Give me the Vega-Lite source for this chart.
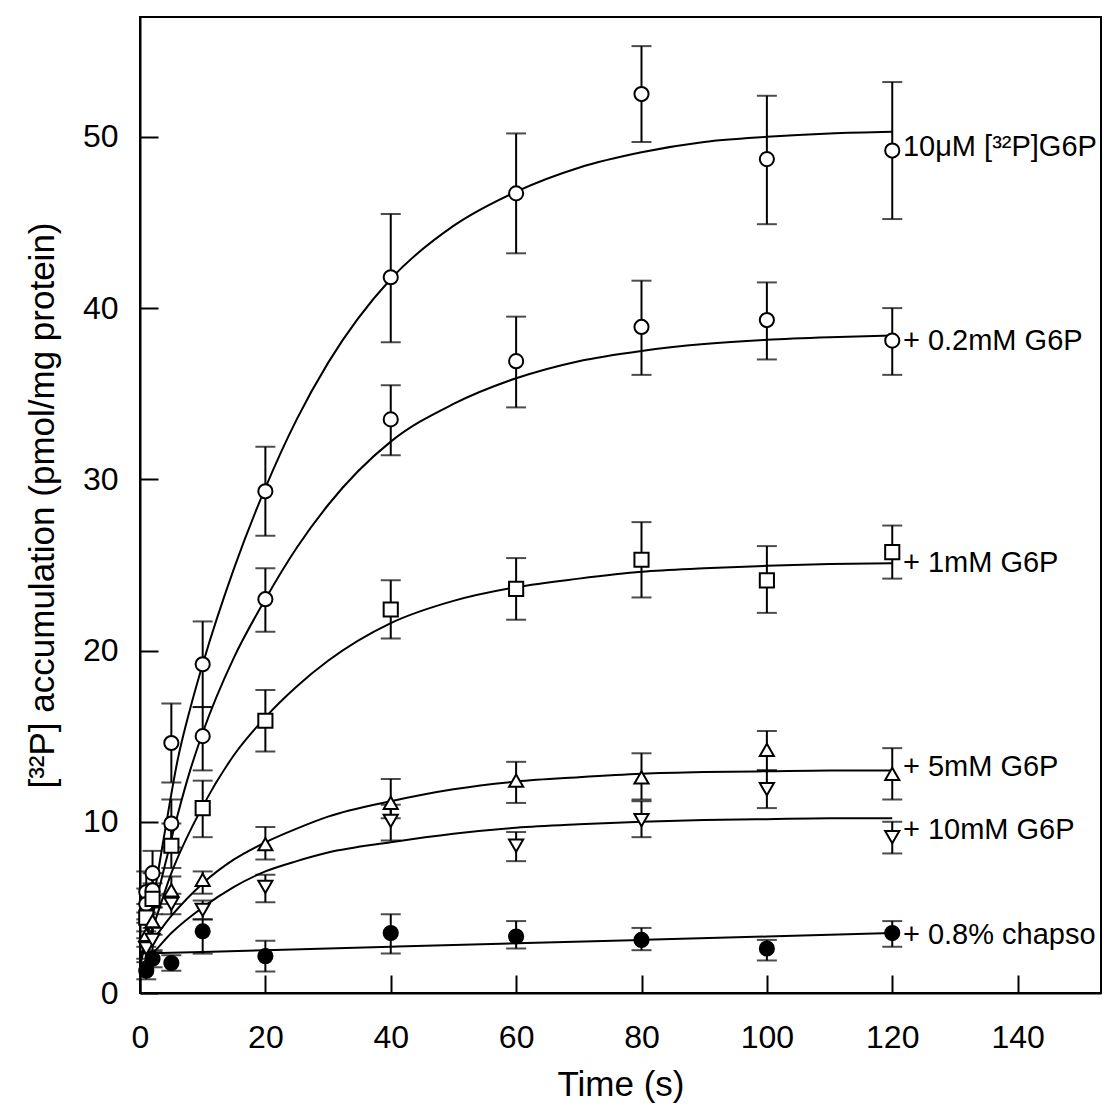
{
  "$schema": "https://vega.github.io/schema/vega-lite/v6.json",
  "autosize": {"type": "none"},
  "width": 961,
  "height": 976,
  "padding": {"left": 140, "top": 17, "right": 5, "bottom": 121},
  "background": "white",
  "config": {
    "view": {"stroke": "black", "strokeWidth": 2},
    "font": "Liberation Sans",
    "axis": {
      "domainColor": "black", "domainWidth": 2, "tickColor": "black", "tickWidth": 2,
      "tickSize": -18, "grid": false, "labelColor": "black", "titleColor": "black",
      "labelFont": "Liberation Sans", "titleFont": "Liberation Sans",
      "labelFontSize": 32, "titleFontSize": 35, "titleFontWeight": "normal", "labelFlush": false
    }
  },
  "datasets": {
    "pts": [
      {"series": "A", "t": 1, "y": 5.9, "lo": 4.7, "hi": 7.1},
      {"series": "A", "t": 2, "y": 7.0, "lo": 5.7, "hi": 8.3},
      {"series": "A", "t": 5, "y": 14.6, "lo": 12.3, "hi": 16.9},
      {"series": "A", "t": 10, "y": 19.2, "lo": 16.7, "hi": 21.7},
      {"series": "A", "t": 20, "y": 29.3, "lo": 26.7, "hi": 31.9},
      {"series": "A", "t": 40, "y": 41.8, "lo": 38.0, "hi": 45.5},
      {"series": "A", "t": 60, "y": 46.7, "lo": 43.2, "hi": 50.2},
      {"series": "A", "t": 80, "y": 52.5, "lo": 49.7, "hi": 55.3},
      {"series": "A", "t": 100, "y": 48.7, "lo": 44.9, "hi": 52.4},
      {"series": "A", "t": 120, "y": 49.2, "lo": 45.2, "hi": 53.2},
      {"series": "B", "t": 1, "y": 5.2, "lo": 4.3, "hi": 6.1},
      {"series": "B", "t": 2, "y": 6.0, "lo": 5.0, "hi": 7.0},
      {"series": "B", "t": 5, "y": 9.9, "lo": 8.5, "hi": 11.3},
      {"series": "B", "t": 10, "y": 15.0, "lo": 13.0, "hi": 16.7},
      {"series": "B", "t": 20, "y": 23.0, "lo": 21.1, "hi": 24.8},
      {"series": "B", "t": 40, "y": 33.5, "lo": 31.4, "hi": 35.5},
      {"series": "B", "t": 60, "y": 36.9, "lo": 34.2, "hi": 39.5},
      {"series": "B", "t": 80, "y": 38.9, "lo": 36.1, "hi": 41.6},
      {"series": "B", "t": 100, "y": 39.3, "lo": 37.0, "hi": 41.5},
      {"series": "B", "t": 120, "y": 38.1, "lo": 36.1, "hi": 40.0},
      {"series": "C", "t": 1, "y": 4.4, "lo": 3.6, "hi": 5.2},
      {"series": "C", "t": 2, "y": 5.5, "lo": 4.6, "hi": 6.4},
      {"series": "C", "t": 5, "y": 8.6, "lo": 7.3, "hi": 9.9},
      {"series": "C", "t": 10, "y": 10.8, "lo": 9.1, "hi": 12.4},
      {"series": "C", "t": 20, "y": 15.9, "lo": 14.1, "hi": 17.7},
      {"series": "C", "t": 40, "y": 22.4, "lo": 20.7, "hi": 24.1},
      {"series": "C", "t": 60, "y": 23.6, "lo": 21.8, "hi": 25.4},
      {"series": "C", "t": 80, "y": 25.3, "lo": 23.1, "hi": 27.5},
      {"series": "C", "t": 100, "y": 24.1, "lo": 22.2, "hi": 26.1},
      {"series": "C", "t": 120, "y": 25.75, "lo": 24.2, "hi": 27.3},
      {"series": "D", "t": 1, "y": 3.4, "lo": 2.7, "hi": 4.1},
      {"series": "D", "t": 2, "y": 4.2, "lo": 3.4, "hi": 5.0},
      {"series": "D", "t": 5, "y": 6.0, "lo": 5.2, "hi": 6.8},
      {"series": "D", "t": 10, "y": 6.6, "lo": 5.8, "hi": 7.1},
      {"series": "D", "t": 20, "y": 8.7, "lo": 7.8, "hi": 9.7},
      {"series": "D", "t": 40, "y": 11.1, "lo": 10.2, "hi": 12.5},
      {"series": "D", "t": 60, "y": 12.4, "lo": 11.1, "hi": 13.5},
      {"series": "D", "t": 80, "y": 12.6, "lo": 11.3, "hi": 14.0},
      {"series": "D", "t": 100, "y": 14.2, "lo": 13.0, "hi": 15.3},
      {"series": "D", "t": 120, "y": 12.8, "lo": 11.3, "hi": 14.3},
      {"series": "E", "t": 1, "y": 2.6, "lo": 2.0, "hi": 3.2},
      {"series": "E", "t": 2, "y": 3.1, "lo": 2.4, "hi": 3.8},
      {"series": "E", "t": 5, "y": 5.2, "lo": 4.6, "hi": 5.8},
      {"series": "E", "t": 10, "y": 4.85, "lo": 4.3, "hi": 5.4},
      {"series": "E", "t": 20, "y": 6.2, "lo": 5.3, "hi": 6.9},
      {"series": "E", "t": 40, "y": 10.05, "lo": 8.9, "hi": 11.0},
      {"series": "E", "t": 60, "y": 8.6, "lo": 7.7, "hi": 9.4},
      {"series": "E", "t": 80, "y": 10.1, "lo": 9.1, "hi": 11.2},
      {"series": "E", "t": 100, "y": 11.9, "lo": 10.8, "hi": 13.0},
      {"series": "E", "t": 120, "y": 9.1, "lo": 8.15, "hi": 10.0},
      {"series": "F", "t": 1, "y": 1.3, "lo": 0.8, "hi": 1.8},
      {"series": "F", "t": 2, "y": 2.0, "lo": 1.5, "hi": 2.5},
      {"series": "F", "t": 5, "y": 1.75, "lo": 1.3, "hi": 2.2},
      {"series": "F", "t": 10, "y": 3.6, "lo": 2.3, "hi": 4.3},
      {"series": "F", "t": 20, "y": 2.15, "lo": 1.25, "hi": 3.05},
      {"series": "F", "t": 40, "y": 3.5, "lo": 2.3, "hi": 4.6},
      {"series": "F", "t": 60, "y": 3.3, "lo": 2.6, "hi": 4.2},
      {"series": "F", "t": 80, "y": 3.1, "lo": 2.5, "hi": 3.8},
      {"series": "F", "t": 100, "y": 2.6, "lo": 1.9, "hi": 3.1},
      {"series": "F", "t": 120, "y": 3.5, "lo": 2.7, "hi": 4.2}
    ],
    "fit": [
      {"series": "A", "t": 0, "y": 1.5}, {"series": "A", "t": 2, "y": 5.2}, {"series": "A", "t": 4, "y": 9.5},
      {"series": "A", "t": 6, "y": 13.6}, {"series": "A", "t": 8, "y": 16.6}, {"series": "A", "t": 10, "y": 19.2},
      {"series": "A", "t": 15, "y": 24.8}, {"series": "A", "t": 20, "y": 29.5}, {"series": "A", "t": 25, "y": 33.5},
      {"series": "A", "t": 30, "y": 36.8}, {"series": "A", "t": 40, "y": 41.7}, {"series": "A", "t": 50, "y": 44.8},
      {"series": "A", "t": 60, "y": 46.8}, {"series": "A", "t": 70, "y": 48.2}, {"series": "A", "t": 80, "y": 49.1},
      {"series": "A", "t": 90, "y": 49.7}, {"series": "A", "t": 100, "y": 50.0}, {"series": "A", "t": 110, "y": 50.2},
      {"series": "A", "t": 120, "y": 50.3},
      {"series": "B", "t": 0, "y": 1.8}, {"series": "B", "t": 2, "y": 4.5}, {"series": "B", "t": 4, "y": 7.5},
      {"series": "B", "t": 6, "y": 10.4}, {"series": "B", "t": 8, "y": 13.0}, {"series": "B", "t": 10, "y": 15.2},
      {"series": "B", "t": 15, "y": 19.6}, {"series": "B", "t": 20, "y": 23.0}, {"series": "B", "t": 25, "y": 26.0},
      {"series": "B", "t": 30, "y": 28.5}, {"series": "B", "t": 40, "y": 32.2}, {"series": "B", "t": 50, "y": 34.4},
      {"series": "B", "t": 60, "y": 35.9}, {"series": "B", "t": 70, "y": 36.9}, {"series": "B", "t": 80, "y": 37.5},
      {"series": "B", "t": 90, "y": 37.9}, {"series": "B", "t": 100, "y": 38.15}, {"series": "B", "t": 110, "y": 38.3},
      {"series": "B", "t": 120, "y": 38.4},
      {"series": "C", "t": 0, "y": 2.0}, {"series": "C", "t": 2, "y": 3.8}, {"series": "C", "t": 5, "y": 7.0},
      {"series": "C", "t": 10, "y": 10.9}, {"series": "C", "t": 15, "y": 13.9}, {"series": "C", "t": 20, "y": 16.1},
      {"series": "C", "t": 25, "y": 17.9}, {"series": "C", "t": 30, "y": 19.4}, {"series": "C", "t": 40, "y": 21.6},
      {"series": "C", "t": 50, "y": 22.9}, {"series": "C", "t": 60, "y": 23.7}, {"series": "C", "t": 70, "y": 24.2},
      {"series": "C", "t": 80, "y": 24.6}, {"series": "C", "t": 90, "y": 24.8}, {"series": "C", "t": 100, "y": 24.95},
      {"series": "C", "t": 110, "y": 25.05}, {"series": "C", "t": 120, "y": 25.1},
      {"series": "D", "t": 0, "y": 2.3}, {"series": "D", "t": 2, "y": 3.1}, {"series": "D", "t": 5, "y": 4.5},
      {"series": "D", "t": 10, "y": 6.4}, {"series": "D", "t": 15, "y": 7.8}, {"series": "D", "t": 20, "y": 8.8},
      {"series": "D", "t": 25, "y": 9.6}, {"series": "D", "t": 30, "y": 10.3}, {"series": "D", "t": 40, "y": 11.2},
      {"series": "D", "t": 50, "y": 11.9}, {"series": "D", "t": 60, "y": 12.35}, {"series": "D", "t": 70, "y": 12.6},
      {"series": "D", "t": 80, "y": 12.8}, {"series": "D", "t": 90, "y": 12.9}, {"series": "D", "t": 100, "y": 12.95},
      {"series": "D", "t": 110, "y": 13.0}, {"series": "D", "t": 120, "y": 13.0},
      {"series": "E", "t": 0, "y": 1.6}, {"series": "E", "t": 2, "y": 2.3}, {"series": "E", "t": 5, "y": 3.5},
      {"series": "E", "t": 10, "y": 5.0}, {"series": "E", "t": 15, "y": 6.2}, {"series": "E", "t": 20, "y": 7.1},
      {"series": "E", "t": 25, "y": 7.7}, {"series": "E", "t": 30, "y": 8.2}, {"series": "E", "t": 40, "y": 8.8},
      {"series": "E", "t": 50, "y": 9.3}, {"series": "E", "t": 60, "y": 9.65}, {"series": "E", "t": 70, "y": 9.85},
      {"series": "E", "t": 80, "y": 10.0}, {"series": "E", "t": 90, "y": 10.1}, {"series": "E", "t": 100, "y": 10.15},
      {"series": "E", "t": 110, "y": 10.2}, {"series": "E", "t": 120, "y": 10.2},
      {"series": "F", "t": 0, "y": 2.3}, {"series": "F", "t": 20, "y": 2.5}, {"series": "F", "t": 40, "y": 2.7},
      {"series": "F", "t": 60, "y": 2.9}, {"series": "F", "t": 80, "y": 3.1}, {"series": "F", "t": 100, "y": 3.3},
      {"series": "F", "t": 120, "y": 3.5}
    ],
    "labels": [
      {"label": "10μM [³²P]G6P", "t": 121.7, "y": 49.4},
      {"label": "+ 0.2mM G6P", "t": 121.7, "y": 38.1},
      {"label": "+ 1mM G6P", "t": 121.7, "y": 25.1},
      {"label": "+ 5mM G6P", "t": 121.7, "y": 13.2},
      {"label": "+ 10mM G6P", "t": 121.7, "y": 9.5},
      {"label": "+ 0.8% chapso", "t": 121.7, "y": 3.4}
    ]
  },
  "encoding": {
    "x": {"type": "quantitative", "scale": {"domain": [0, 153.3], "nice": false, "zero": false},
      "axis": {"title": "Time (s)", "values": [0, 20, 40, 60, 80, 100, 120, 140], "labelPadding": 47, "titlePadding": 14}},
    "y": {"type": "quantitative", "scale": {"domain": [0, 57], "nice": false, "zero": false},
      "axis": {"title": "[³²P] accumulation (pmol/mg protein)", "values": [0, 10, 20, 30, 40, 50], "labelPadding": 40, "titlePadding": 22}}
  },
  "layer": [
    {
      "data": {"name": "pts"},
      "mark": {"type": "errorbar", "color": "black", "thickness": 2, "ticks": {"size": 20, "thickness": 2, "color": "black"}},
      "encoding": {"x": {"field": "t"}, "y": {"field": "lo"}, "y2": {"field": "hi"}}
    },
    {
      "data": {"name": "fit"},
      "mark": {"type": "line", "color": "black", "strokeWidth": 2, "interpolate": "monotone"},
      "encoding": {"x": {"field": "t"}, "y": {"field": "y"}, "detail": {"field": "series"}}
    },
    {
      "data": {"name": "pts"},
      "mark": {"type": "point", "filled": true, "stroke": "black", "strokeWidth": 2, "opacity": 1},
      "encoding": {
        "x": {"field": "t"}, "y": {"field": "y"},
        "shape": {"field": "series", "type": "nominal", "legend": null,
          "scale": {"domain": ["A", "B", "C", "D", "E", "F"], "range": ["circle", "circle", "square", "triangle-up", "triangle-down", "circle"]}},
        "fill": {"field": "series", "type": "nominal", "legend": null,
          "scale": {"domain": ["A", "B", "C", "D", "E", "F"], "range": ["white", "white", "white", "white", "white", "black"]}},
        "size": {"field": "series", "type": "nominal", "legend": null,
          "scale": {"domain": ["A", "B", "C", "D", "E", "F"], "range": [200, 200, 170, 170, 170, 260]}}
      }
    },
    {
      "data": {"name": "labels"},
      "mark": {"type": "text", "align": "left", "baseline": "middle", "fontSize": 29, "font": "Liberation Sans", "color": "black"},
      "encoding": {"x": {"field": "t"}, "y": {"field": "y"}, "text": {"field": "label"}}
    }
  ]
}
